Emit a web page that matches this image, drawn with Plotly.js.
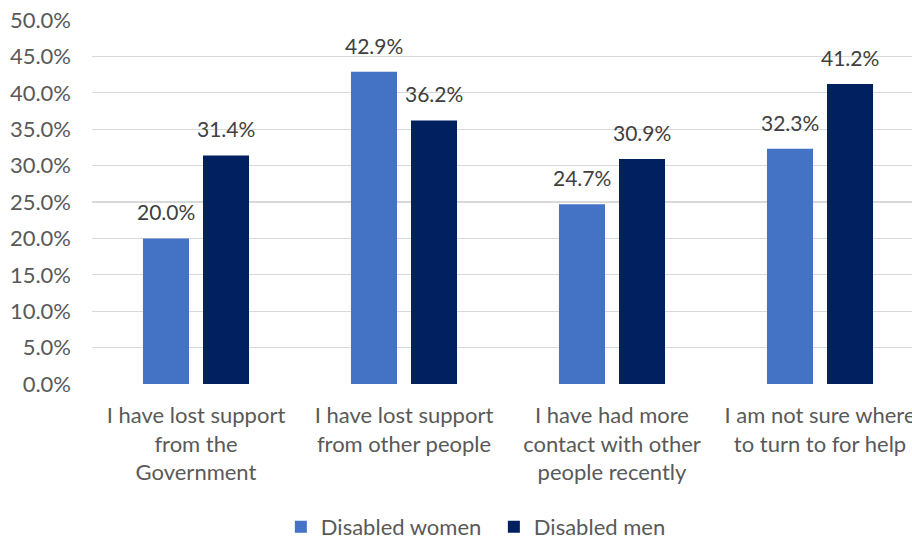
<!DOCTYPE html>
<html>
<head>
<meta charset="utf-8">
<script src="https://cdn.plot.ly/plotly-3.0.1.min.js"></script>
<style>
html,body{margin:0;padding:0;overflow:hidden;background:#fff;}
#chart{width:924px;height:541px;}
</style>
</head>
<body>
<div id="chart"></div>
<script>
const categories = [
  "I have lost support<br>from the<br>Government",
  "I have lost support<br>from other people",
  "I have had more<br>contact with other<br>people recently",
  "I am not sure where<br>to turn to for help"
];
const seriesNames = ["Disabled women", "Disabled men"];
const women = [20.0, 42.9, 24.7, 32.3];
const men = [31.4, 36.2, 30.9, 41.2];
const yTicks = [0, 5, 10, 15, 20, 25, 30, 35, 40, 45, 50];

const colors = ["#4472C4", "#002060"];
const font = "Lato, 'Open Sans', sans-serif";

const traces = [women, men].map((vals, i) => ({
  type: "bar",
  name: seriesNames[i],
  x: categories,
  y: vals,
  marker: {color: colors[i], line: {width: 0}},
  hoverinfo: "skip"
}));

const annotations = [];
[women, men].forEach((vals, i) => {
  vals.forEach((v, j) => {
    annotations.push({
      x: categories[j], y: v, xref: "x", yref: "y",
      xshift: i === 0 ? -30 : 30, yshift: 12,
      yanchor: "bottom", showarrow: false,
      text: v.toFixed(1) + "%",
      font: {family: font, size: 21, color: "#404040"}
    });
  });
});

const layout = {
  width: 924, height: 541,
  margin: {l: 92, r: 0, t: 20, b: 157, pad: 0, autoexpand: false},
  paper_bgcolor: "#fff", plot_bgcolor: "#fff",
  barmode: "group", bargap: 0.423, bargroupgap: 0.233,
  showlegend: true,
  legend: {
    orientation: "h", x: 0.227, xanchor: "left",
    yref: "container", y: 0.026, yanchor: "middle",
    font: {family: font, size: 22, color: "#595959"},
    entrywidth: 168, entrywidthmode: "pixels",
    traceorder: "normal"
  },
  xaxis: {
    type: "category",
    tickfont: {family: font, size: 22, color: "#595959"},
    showgrid: false, zeroline: false, showline: false,
    ticks: "", ticklabelstandoff: 16, fixedrange: true, automargin: false
  },
  yaxis: {
    range: [0, 50], tickvals: yTicks,
    ticktext: yTicks.map(t => t.toFixed(1) + "%"),
    tickfont: {family: font, size: 22, color: "#595959"},
    showgrid: true, gridcolor: "#d9d9d9", gridwidth: 1.3,
    zeroline: false, showline: false, ticks: "",
    ticklabelstandoff: 20, fixedrange: true, automargin: false
  },
  annotations: annotations
};

Plotly.newPlot("chart", traces, layout, {displayModeBar: false, staticPlot: true});
</script>
</body>
</html>
